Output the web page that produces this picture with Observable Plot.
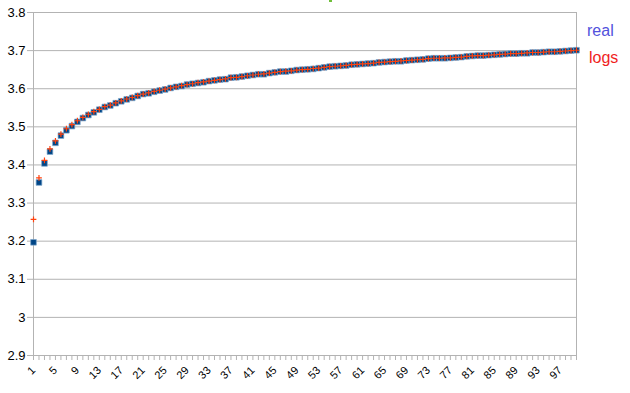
<!DOCTYPE html>
<html>
<head>
<meta charset="utf-8">
<script src="https://cdn.jsdelivr.net/npm/d3@7"></script>
<script src="https://cdn.jsdelivr.net/npm/@observablehq/plot@0.6"></script>
<style>
  html, body { margin: 0; padding: 0; background: #fff; }
  #wrap { position: relative; width: 630px; height: 393px; font-family: "Liberation Sans", Arial, sans-serif; }
  .leg { position: absolute; font-size: 16px; line-height: 1; }
  #green { position: absolute; left: 329px; top: 0px; width: 3px; height: 2px; background: #6fbf3a; }
</style>
</head>
<body>
<div id="wrap">
  <div id="chart"></div>
  <div class="leg" style="left:587px; top:23px; color:#5252dc;">real</div>
  <div class="leg" style="left:589px; top:50px; color:#f01e1e;">logs</div>
  <div id="green"></div>
</div>
<script>
const categories = d3.range(1, 101);
const xLabels = [1,5,9,13,17,21,25,29,33,37,41,45,49,53,57,61,65,69,73,77,81,85,89,93,97];
const yTicks = [2.9,3,3.1,3.2,3.3,3.4,3.5,3.6,3.7,3.8];
const yTickLabels = ["2.9","3","3.1","3.2","3.3","3.4","3.5","3.6","3.7","3.8"];

const realValues = [3.197,3.354,3.404,3.435,3.458,3.477,3.491,3.502,3.513,3.523,
3.531,3.538,3.545,3.552,3.556,3.562,3.567,3.572,3.576,3.581,
3.586,3.588,3.592,3.595,3.598,3.602,3.605,3.607,3.611,3.613,
3.615,3.617,3.620,3.622,3.624,3.625,3.629,3.630,3.632,3.634,
3.636,3.638,3.638,3.641,3.643,3.645,3.645,3.647,3.649,3.650,
3.651,3.652,3.654,3.656,3.658,3.659,3.660,3.661,3.663,3.664,
3.665,3.666,3.667,3.669,3.670,3.671,3.672,3.672,3.674,3.675,
3.676,3.677,3.679,3.680,3.680,3.680,3.681,3.682,3.683,3.685,
3.686,3.687,3.687,3.688,3.689,3.690,3.691,3.692,3.692,3.693,
3.693,3.695,3.695,3.696,3.697,3.697,3.698,3.699,3.700,3.701];

const logsValues = [3.257,3.366,3.412,3.442,3.463,3.481,3.495,3.506,3.516,3.525,
3.533,3.540,3.546,3.553,3.557,3.563,3.568,3.573,3.577,3.582,
3.586,3.589,3.593,3.596,3.599,3.602,3.605,3.608,3.611,3.613,
3.616,3.618,3.620,3.622,3.624,3.626,3.629,3.630,3.632,3.634,
3.636,3.638,3.639,3.641,3.643,3.645,3.646,3.647,3.649,3.650,
3.651,3.653,3.654,3.656,3.658,3.659,3.660,3.661,3.663,3.664,
3.665,3.666,3.667,3.669,3.670,3.671,3.672,3.673,3.674,3.675,
3.676,3.677,3.679,3.680,3.680,3.681,3.681,3.682,3.683,3.685,
3.686,3.687,3.687,3.688,3.689,3.690,3.691,3.692,3.692,3.693,
3.694,3.695,3.695,3.696,3.697,3.697,3.698,3.699,3.700,3.701];

const real = categories.map((c, i) => ({n: c, v: realValues[i]}));
const logs = categories.map((c, i) => ({n: c, v: logsValues[i]}));

const grid = "#b3b3b3";
const chart = Plot.plot({
  width: 630,
  height: 393,
  marginLeft: 33,
  marginRight: 54,
  marginTop: 12,
  marginBottom: 38,
  style: {fontFamily: "'Liberation Sans', Arial, sans-serif", background: "#fff", color: "#000"},
  x: {type: "linear", domain: [1, 100]},
  y: {domain: [2.9, 3.8]},
  marks: [
    Plot.gridY(yTicks, {stroke: grid, strokeOpacity: 1}),
    Plot.frame({stroke: grid}),
    Plot.axisY(yTicks, {tickSize: 6, tickPadding: 2, fontSize: 13, stroke: grid, fill: "#000", label: null,
      tickFormat: d => yTickLabels[yTicks.indexOf(d)]}),
    Plot.axisX(categories, {tickSize: 5, tickFormat: () => "", stroke: grid, label: null}),
    Plot.axisX(xLabels, {tickSize: 0, tickPadding: 13, tickRotate: -45, fontSize: 11, fill: "#000", label: null}),
    Plot.dot(real, {x: "n", y: "v", symbol: "square", r: 3.2, fill: "#004586", stroke: "#7ea6cc", strokeWidth: 1, strokeOpacity: 0.7}),
    Plot.dot(logs, {x: "n", y: "v", symbol: "plus", r: 2, stroke: "#ff420e", strokeWidth: 1.2})
  ]
});
document.getElementById("chart").appendChild(chart);
</script>
</body>
</html>
